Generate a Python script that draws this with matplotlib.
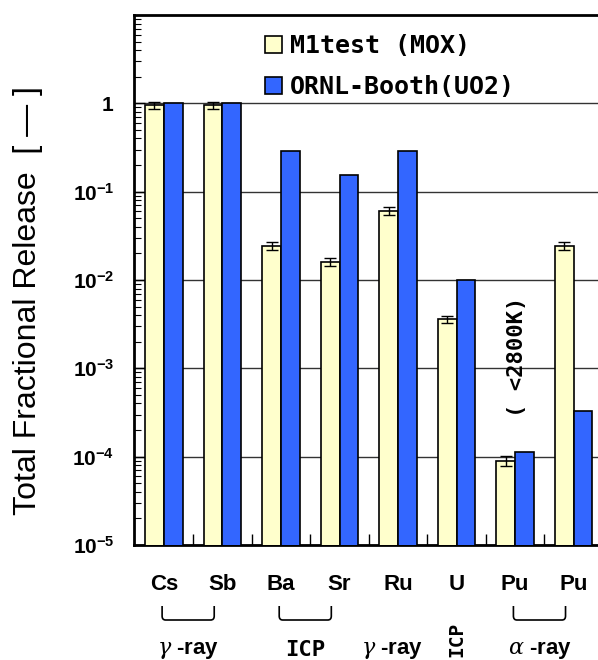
import numpy as np
import matplotlib
matplotlib.use('Agg')
import matplotlib.pyplot as plt
from matplotlib.path import Path
from matplotlib.patches import PathPatch
import matplotlib.transforms as mtransforms

plt.rcParams['mathtext.fontset'] = 'custom'
plt.rcParams['mathtext.rm'] = 'Liberation Sans:bold'
plt.rcParams['mathtext.bf'] = 'Liberation Sans:bold'
plt.rcParams['mathtext.it'] = 'DejaVu Serif:italic'

# data
elements = ['Cs', 'Sb', 'Ba', 'Sr', 'Ru', 'U', 'Pu', 'Pu']
m1test = [0.95, 0.95, 0.0245, 0.016, 0.061, 0.0036, 9.0e-5, 0.0245]
m1test_err = [0.1, 0.1, 0.1, 0.1, 0.1, 0.1, 0.12, 0.1]   # relative error
ornl = [1.0, 1.0, 0.29, 0.155, 0.29, 0.01, 1.13e-4, 3.3e-4]
ytick_vals = [1e-5, 1e-4, 1e-3, 1e-2, 1e-1, 1]
ytick_labels = [r'$\mathbf{10^{-5}}$', r'$\mathbf{10^{-4}}$', r'$\mathbf{10^{-3}}$',
                r'$\mathbf{10^{-2}}$', r'$\mathbf{10^{-1}}$', r'$\mathbf{1}$']
groups = [(0, 1, r'$\gamma$ -ray'), (2, 3, 'ICP'), (6, 7, r'$\alpha$ -ray')]

W, H = 598, 660
fig = plt.figure(figsize=(W / 100, H / 100), dpi=100)
ax = fig.add_axes([134 / W, 1 - 545 / H, 469 / W, 530 / H])

x = np.arange(len(elements))
bw = 0.32
m1 = np.array(m1test)
err = m1 * np.array(m1test_err)
ax.bar(x - bw / 2, m1, bw, color='#FFFFCC', edgecolor='black', linewidth=1.2, zorder=3,
       label='M1test (MOX)')
ax.errorbar(x - bw / 2, m1, yerr=err, fmt='none', ecolor='black', elinewidth=1,
            capsize=4, capthick=1, zorder=4)
ax.bar(x + bw / 2, ornl, bw, color='#3366FF', edgecolor='black', linewidth=1.2, zorder=3,
       label='ORNL-Booth(UO2)')

ax.set_yscale('log')
ax.set_ylim(1e-5, 10)
ax.set_xlim(-0.51, 7.5)
ax.set_yticks(ytick_vals)
ax.set_yticklabels(ytick_labels)
ax.yaxis.grid(True, which='major', color='#333333', linewidth=1, zorder=0)
ax.tick_params(axis='y', which='major', direction='in', length=8, width=1, pad=14,
               labelsize=15, right=False)
ax.tick_params(axis='y', which='minor', direction='in', length=5, width=0.8, right=False)
ax.set_xticks(np.arange(0.5, 7, 1))
ax.set_xticklabels([])
ax.tick_params(axis='x', which='major', direction='in', length=8, width=1, top=False)
ax.tick_params(axis='x', which='minor', bottom=False, top=False)
for s in ['top', 'bottom', 'left']:
    ax.spines[s].set_linewidth(2)
ax.spines['right'].set_visible(False)

leg = ax.legend(loc='upper left', bbox_to_anchor=(265 / W, 1 - 34 / H),
                bbox_transform=fig.transFigure, frameon=False,
                handlelength=0.68, handleheight=0.68, handletextpad=0.3,
                labelspacing=0.68, borderpad=0, borderaxespad=0,
                prop={'family': 'DejaVu Sans Mono', 'weight': 'bold', 'size': 18})

# labels under the axis
trans = mtransforms.blended_transform_factory(ax.transData, fig.transFigure)
for i, name in enumerate(elements):
    ax.text(i, 1 - 585 / H, name, transform=trans, ha='center', va='center',
            fontsize=16, fontweight='bold', family='Liberation Sans')

for a, b, lab in groups:
    x0, x1 = a - 0.03, b - 0.14
    y0, y1 = 1 - 606 / H, 1 - 620 / H
    verts = [(x0, y0), (x0, y1 + 0.006), (x0, y1), (x0 + 0.06, y1), (x1 - 0.06, y1),
             (x1, y1), (x1, y1 + 0.006), (x1, y0)]
    codes = [Path.MOVETO, Path.LINETO, Path.CURVE3, Path.CURVE3, Path.LINETO,
             Path.CURVE3, Path.CURVE3, Path.LINETO]
    ax.add_patch(PathPatch(Path(verts, codes), transform=trans, fill=False,
                           edgecolor='black', linewidth=1.2, clip_on=False))
    fam = 'DejaVu Sans Mono' if lab == 'ICP' else 'Liberation Sans'
    ax.text((a + b) / 2 - 0.08, 1 - 650 / H, lab, transform=trans, ha='center', va='center',
            fontsize=16, fontweight='bold', family=fam)

ax.text(4 - 0.1, 1 - 650 / H, r'$\gamma$ -ray', transform=trans, ha='center', va='center',
        fontsize=16, fontweight='bold', family='Liberation Sans')
ax.text(5, 1 - 639 / H, 'ICP', transform=trans, ha='center', va='center', rotation=90,
        fontsize=14, fontweight='bold', family='DejaVu Sans Mono')

ax.text(6.03, 1 - 357 / H, '( <2800K)', transform=trans, ha='center', va='center', rotation=90,
        fontsize=16, fontweight='bold', family='DejaVu Sans Mono')

fig.text(28 / W, 1 - 301 / H, 'Total Fractional Release  [ — ]', rotation=90,
         ha='center', va='center', fontsize=23, family='Liberation Sans')

fig.savefig('out.png', dpi=100)
